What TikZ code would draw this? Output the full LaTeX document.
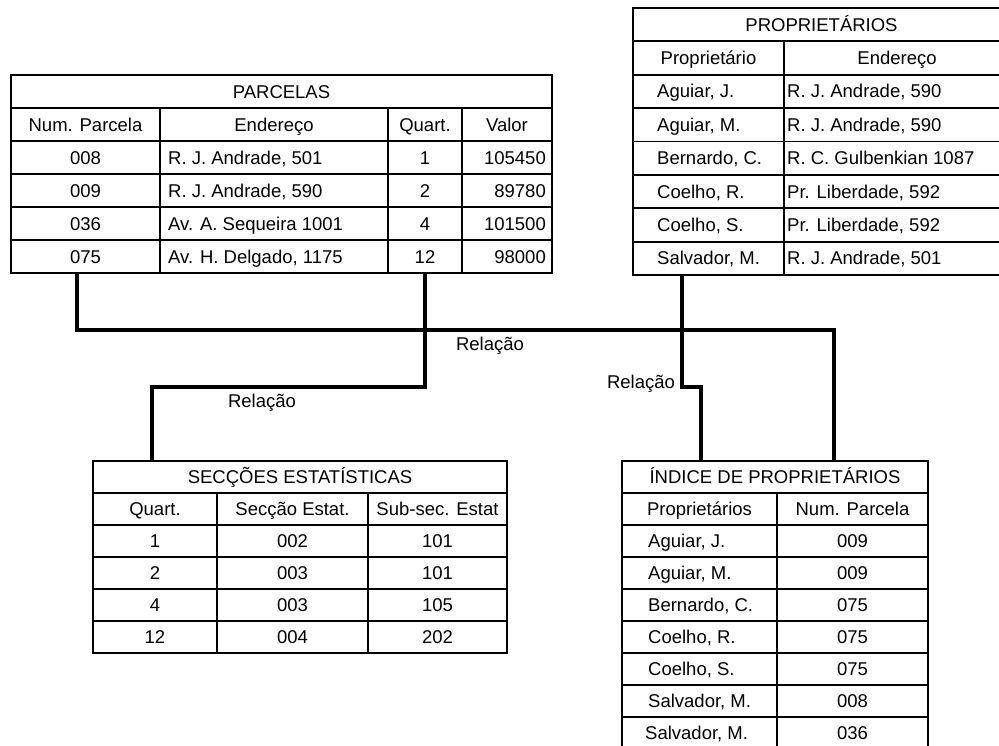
\documentclass[tikz,border=0pt]{standalone}
\usepackage{fontspec}
\setmainfont{Liberation Sans}
\newcommand\tabfont{\fontsize{18.5}{22}\selectfont}
\begin{document}
\begin{tikzpicture}[x=1pt,y=-1pt,
  frame/.style={draw, line width=2.2pt, inner sep=0pt, outer sep=0pt, anchor=north west},
  rule/.style={line width=1.8pt},
  conn/.style={line width=3.5pt, line join=miter},
  txt/.style={inner sep=0pt, font=\tabfont, anchor=base},
  txtl/.style={txt, anchor=base west},
  txtr/.style={txt, anchor=base east}]
\useasboundingbox (0,0) rectangle (999,745);
\fill[white] (0,0) rectangle (999,745);
\clip (0,0) rectangle (999,745);

% ---------- PARCELAS ----------
\node[frame, minimum width=541pt, minimum height=198pt] (parc) at (11,75) {};
\foreach \yy in {108,141,174,207,240} \draw[rule] (11,\yy) -- (552,\yy);
\foreach \xx in {160,388,462} \draw[rule] (\xx,108) -- (\xx,273);
\node[txt] (parc-t) at (281.5,98) {PARCELAS};
\node[txt] (parc-h1) at (85.5,131) {Num. Parcela};
\node[txt] (parc-h2) at (274,131) {Endereço};
\node[txt] (parc-h3) at (425,131) {Quart.};
\node[txt] (parc-h4) at (507,131) {Valor};
\foreach \a/\b/\c/\d [count=\i] in {008/{R. J. Andrade, 501}/1/105450, 009/{R. J. Andrade, 590}/2/89780, 036/{Av. A. Sequeira 1001}/4/101500, 075/{Av. H. Delgado, 1175}/12/98000} {
  \node[txt] (parc-\i-1) at (85.5,{164+(\i-1)*33}) {\a};
  \node[txtl] (parc-\i-2) at (168,{164+(\i-1)*33}) {\b};
  \node[txt] (parc-\i-3) at (425,{164+(\i-1)*33}) {\c};
  \node[txtr] (parc-\i-4) at (546,{164+(\i-1)*33}) {\d};
}

% ---------- PROPRIETARIOS ----------
\node[frame, minimum width=377pt, minimum height=267pt] (prop) at (633,8) {};
\foreach \k in {1,...,7} \draw[rule] (633,{8+\k*33.375}) -- (1010,{8+\k*33.375});
\draw[rule] (784,41.375) -- (784,275);
\node[txt] (prop-t) at (821.5,31.2) {PROPRIETÁRIOS};
\node[txt] (prop-h1) at (708.5,64.6) {Proprietário};
\node[txt] (prop-h2) at (897,64.6) {Endereço};
\foreach \a/\b [count=\i] in {{Aguiar, J.}/{R. J. Andrade, 590}, {Aguiar, M.}/{R. J. Andrade, 590}, {Bernardo, C.}/{R. C. Gulbenkian 1087}, {Coelho, R.}/{Pr. Liberdade, 592}, {Coelho, S.}/{Pr. Liberdade, 592}, {Salvador, M.}/{R. J. Andrade, 501}} {
  \node[txtl] (prop-\i-1) at (657,{97.9+(\i-1)*33.375}) {\a};
  \node[txtl] (prop-\i-2) at (787,{97.9+(\i-1)*33.375}) {\b};
}

% ---------- SECCOES ESTATISTICAS ----------
\node[frame, minimum width=414pt, minimum height=192pt] (sec) at (93,461) {};
\foreach \yy in {493,525,557,589,621} \draw[rule] (93,\yy) -- (507,\yy);
\foreach \xx in {217,368} \draw[rule] (\xx,493) -- (\xx,653);
\node[txt] (sec-t) at (300,483.5) {SECÇÕES ESTATÍSTICAS};
\node[txt] (sec-h1) at (155,515.5) {Quart.};
\node[txt] (sec-h2) at (292.5,515.5) {Secção Estat.};
\node[txt] (sec-h3) at (437.5,515.5) {Sub-sec. Estat};
\foreach \a/\b/\c [count=\i] in {1/002/101, 2/003/101, 4/003/105, 12/004/202} {
  \node[txt] (sec-\i-1) at (155,{547.5+(\i-1)*32}) {\a};
  \node[txt] (sec-\i-2) at (292.5,{547.5+(\i-1)*32}) {\b};
  \node[txt] (sec-\i-3) at (437.5,{547.5+(\i-1)*32}) {\c};
}

% ---------- INDICE DE PROPRIETARIOS ----------
\node[frame, minimum width=306pt, minimum height=288pt] (ind) at (622,461) {};
\foreach \yy in {493,525,557,589,621,653,685,717} \draw[rule] (622,\yy) -- (928,\yy);
\draw[rule] (777,493) -- (777,749);
\node[txt] (ind-t) at (775,483.5) {ÍNDICE DE PROPRIETÁRIOS};
\node[txt] (ind-h1) at (699.5,515.5) {Proprietários};
\node[txt] (ind-h2) at (852.5,515.5) {Num. Parcela};
\foreach \a/\b/\xo [count=\i] in {{Aguiar, J.}/009/648, {Aguiar, M.}/009/648, {Bernardo, C.}/075/648, {Coelho, R.}/075/648, {Coelho, S.}/075/648, {Salvador, M.}/008/648, {Salvador, M.}/036/645} {
  \node[txtl] (ind-\i-1) at (\xo,{547.5+(\i-1)*32}) {\a};
  \node[txt] (ind-\i-2) at (852.5,{547.5+(\i-1)*32}) {\b};
}

% ---------- connectors ----------
\coordinate (xa) at (77,0);
\coordinate (xb) at (425,0);
\coordinate (xc) at (152,0);
\coordinate (xd) at (682,0);
\coordinate (xe) at (701,0);
\coordinate (xf) at (834,0);
\draw[conn] (parc.south -| xa) -- ++(0,57) -| (ind.north -| xf);
\draw[conn] (parc.south -| xb) -- ++(0,114) -| (sec.north -| xc);
\draw[conn] (prop.south -| xd) -- ++(0,112) -| (ind.north -| xe);

\node[txt] (rel1) at (490,350.5) {Relação};
\node[txt] (rel2) at (262,407.5) {Relação};
\node[txt] (rel3) at (641,388.5) {Relação};
\end{tikzpicture}
\end{document}
